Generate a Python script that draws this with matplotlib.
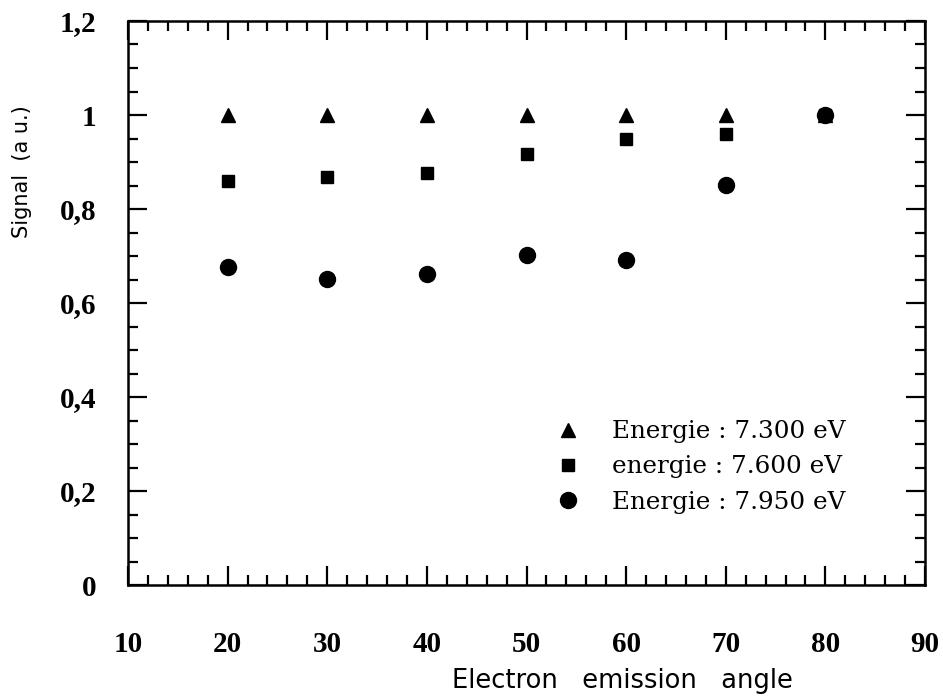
import matplotlib
matplotlib.use("Agg")
import matplotlib.pyplot as plt
from matplotlib.ticker import MultipleLocator, FixedLocator

angles = [20, 30, 40, 50, 60, 70, 80]
sig_7300 = [1.0, 1.0, 1.0, 1.0, 1.0, 1.0, 1.0]
sig_7600 = [0.860, 0.868, 0.877, 0.918, 0.949, 0.960, 1.0]
sig_7950 = [0.677, 0.651, 0.662, 0.702, 0.691, 0.851, 1.0]
labels = ["Energie : 7.300 eV", "energie : 7.600 eV", "Energie : 7.950 eV"]
xticks = [10, 20, 30, 40, 50, 60, 70, 80, 90]
yticks = [0, 0.2, 0.4, 0.6, 0.8, 1.0, 1.2]
ytick_labels = ["0", "0,2", "0,4", "0,6", "0,8", "1", "1,2"]

W, H = 943, 699
fig = plt.figure(figsize=(W / 100, H / 100), dpi=100)
ax = fig.add_axes([128 / W, 1 - 585 / H, (925 - 128) / W, (585 - 21) / H])

ax.plot(angles, sig_7300, linestyle="none", marker="^", ms=10.5, color="black", label=labels[0])
ax.plot(angles, sig_7600, linestyle="none", marker="s", ms=9.3, color="black", label=labels[1])
ax.plot(angles, sig_7950, linestyle="none", marker="o", ms=11.5, color="black", label=labels[2])

ax.set_xlim(10, 90)
ax.set_ylim(0, 1.2)
ax.xaxis.set_major_locator(FixedLocator(xticks))
ax.xaxis.set_minor_locator(MultipleLocator(2))
ax.yaxis.set_major_locator(FixedLocator(yticks))
ax.yaxis.set_minor_locator(MultipleLocator(0.05))
ax.set_yticklabels(ytick_labels)

for sp in ax.spines.values():
    sp.set_linewidth(1.8)

ax.tick_params(which="both", direction="in", top=True, right=True, width=1.6)
ax.tick_params(which="major", length=14)
ax.tick_params(which="minor", length=7)
ax.tick_params(axis="x", which="major", pad=33)
ax.tick_params(axis="y", which="major", pad=23)

for lbl in ax.get_xticklabels() + ax.get_yticklabels():
    lbl.set_fontfamily("Liberation Serif")
    lbl.set_fontweight("bold")
    lbl.set_fontsize(21)

fig.text(22 / W, 1 - 172 / H, "Signal  (a u.)", rotation=90, ha="center", va="center",
         family="DejaVu Sans", size=15)
fig.text(622 / W, 1 - 681 / H, "Electron   emission   angle", ha="center", va="center",
         family="DejaVu Sans", size=18.5)

leg = ax.legend(loc="center left", bbox_to_anchor=(531 / W, 1 - 467 / H),
                bbox_transform=fig.transFigure, frameon=False,
                prop=dict(family="DejaVu Serif", size=17.7),
                handletextpad=1.2, labelspacing=0.5, handlelength=1.2)

fig.savefig("out.png", dpi=100)
